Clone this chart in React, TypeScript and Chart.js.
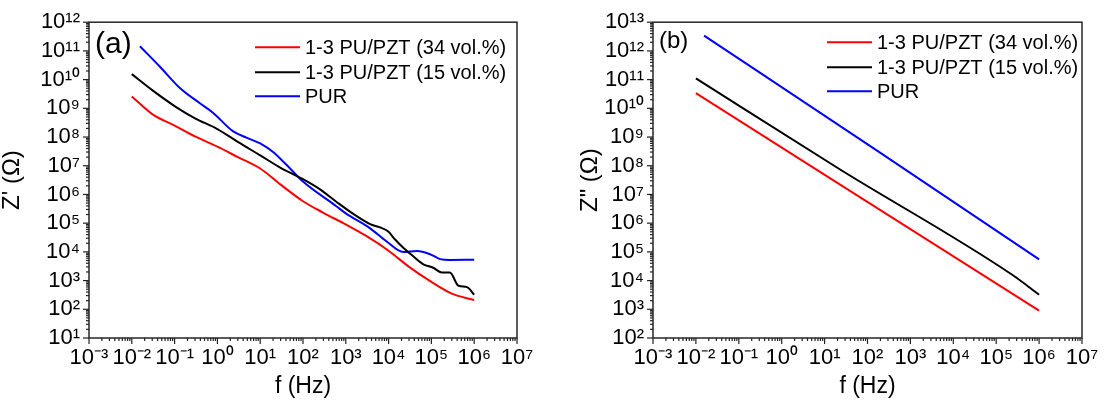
import React, { useEffect, useRef } from 'react';
import { Chart, registerables } from 'chart.js';

Chart.register(...registerables);

const FONT = "'Liberation Sans', Arial, Helvetica, sans-serif";

// Series names & colours
const seriesLabels = ['1-3 PU/PZT (34 vol.%)', '1-3 PU/PZT (15 vol.%)', 'PUR'];
const seriesColors = ['#ff0000', '#000000', '#0000ff'];

// ---- Panel (a): Z' vs f ----
const fA34 = [0.01, 0.03, 0.1, 0.3, 1, 3, 10, 30, 100, 300, 1000, 3000, 1e4, 3e4, 1e5, 3e5, 1e6];
const zA34 = [2.6e9, 6.3e8, 2.5e8, 1.05e8, 4.6e7, 2.0e7, 8.0e6, 2.2e6, 5.8e5, 2.3e5, 9.0e4, 3.6e4, 1.1e4, 3.0e3, 9.0e2, 3.5e2, 2.1e2];

const fA15 = [0.01, 0.03, 0.1, 0.3, 1, 3, 10, 30, 100, 250, 600, 1500, 3700, 6300, 9800, 1.4e4, 2.2e4, 3.7e4, 6.5e4, 1.1e5, 1.75e5, 2.7e5, 4.3e5, 6.8e5, 1e6];
const zA15 = [1.55e10, 4.3e9, 1.2e9, 4.5e8, 1.9e8, 6.8e7, 2.3e7, 8.5e6, 3.4e6, 1.5e6, 5.6e5, 2.1e5, 9.3e4, 7.1e4, 5.1e4, 2.75e4, 1.4e4, 7.2e3, 3.7e3, 2.8e3, 1.9e3, 1.9e3, 6.6e2, 5.9e2, 3.2e2];

const fAPur = [0.0155, 0.046, 0.135, 0.39, 0.8, 2.3, 4.8, 10, 20, 40, 100, 600, 1000, 3700, 9000, 2.2e4, 4.6e4, 9.3e4, 1.6e5, 2.7e5, 1e6];
const zAPur = [1.45e11, 2.75e10, 5.0e9, 1.5e9, 6.9e8, 1.6e8, 9.5e7, 6.0e7, 3.0e7, 1.12e7, 2.8e6, 3.9e5, 2.2e5, 6.6e4, 2.3e4, 9.8e3, 1.07e4, 8.3e3, 5.6e3, 5.25e3, 5.3e3];

// ---- Panel (b): Z'' vs f ----
const fB34 = [0.01, 23, 1e6];
const zB34 = [3.4e10, 2.2e7, 9.0e2];

const fB15 = [0.01, 23, 2.5e5, 1e6];
const zB15 = [1.1e11, 7.4e7, 1.5e4, 3.2e3];

const fBPur = [0.0155, 200, 1e6];
const zBPur = [3.4e12, 2.8e8, 5.5e4];

// ---- Tick values & labels ----
const xTicks = [1e-3, 1e-2, 1e-1, 1e0, 1e1, 1e2, 1e3, 1e4, 1e5, 1e6, 1e7];
const xTickLabels = ['10⁻³', '10⁻²', '10⁻¹', '10⁰', '10¹', '10²', '10³', '10⁴', '10⁵', '10⁶', '10⁷'];

const yTicksA = [1e1, 1e2, 1e3, 1e4, 1e5, 1e6, 1e7, 1e8, 1e9, 1e10, 1e11, 1e12];
const yTickLabelsA = ['10¹', '10²', '10³', '10⁴', '10⁵', '10⁶', '10⁷', '10⁸', '10⁹', '10¹⁰', '10¹¹', '10¹²'];

const yTicksB = [1e2, 1e3, 1e4, 1e5, 1e6, 1e7, 1e8, 1e9, 1e10, 1e11, 1e12, 1e13];
const yTickLabelsB = ['10²', '10³', '10⁴', '10⁵', '10⁶', '10⁷', '10⁸', '10⁹', '10¹⁰', '10¹¹', '10¹²', '10¹³'];

const toPoints = (xs: number[], ys: number[]) => xs.map((x, i) => ({ x, y: ys[i] }));

const decorPlugin = {
  id: 'decor',
  afterDraw(chart: any, _args: any, opts: any) {
    const { ctx, chartArea: a } = chart;
    ctx.save();
    // minor/major tick marks
    ctx.strokeStyle = '#222';
    ctx.lineWidth = 1.2;
    const drawTicks = (scale: any, horizontal: boolean) => {
      const lo = Math.round(Math.log10(scale.min));
      const hi = Math.round(Math.log10(scale.max));
      for (let e = lo; e <= hi; e++) {
        for (let k = 1; k <= 9; k++) {
          if (e === hi && k > 1) break;
          const p = scale.getPixelForValue(k * Math.pow(10, e));
          const len = k === 1 ? 6 : 3;
          ctx.beginPath();
          if (horizontal) {
            ctx.moveTo(p, a.bottom);
            ctx.lineTo(p, a.bottom + len);
          } else {
            ctx.moveTo(a.left, p);
            ctx.lineTo(a.left - len, p);
          }
          ctx.stroke();
        }
      }
    };
    drawTicks(chart.scales.x, true);
    drawTicks(chart.scales.y, false);
    // frame
    ctx.lineWidth = 1.5;
    ctx.strokeStyle = '#262626';
    ctx.strokeRect(a.left, a.top, a.right - a.left, a.bottom - a.top);
    // legend
    ctx.font = `${opts.legendSize}px ${FONT}`;
    ctx.textBaseline = 'middle';
    ctx.textAlign = 'left';
    chart.data.datasets.forEach((ds: any, i: number) => {
      const y = a.top + opts.legendY[i];
      const x = a.left + opts.legendX;
      ctx.strokeStyle = ds.borderColor;
      ctx.lineWidth = 2;
      ctx.beginPath();
      ctx.moveTo(x, y);
      ctx.lineTo(x + 45, y);
      ctx.stroke();
      ctx.fillStyle = '#000';
      ctx.fillText(ds.label, x + 50, y + 1);
    });
    // panel label
    ctx.font = `${opts.panelSize}px ${FONT}`;
    ctx.fillStyle = '#000';
    ctx.fillText(opts.panel, a.left + opts.panelX, a.top + opts.panelY);
    ctx.restore();
  },
};

function makeConfig(p: any) {
  const datasets = p.series.map((s: any, i: number) => ({
    label: seriesLabels[i],
    data: toPoints(s[0], s[1]),
    borderColor: seriesColors[i],
    backgroundColor: seriesColors[i],
    borderWidth: 2,
    pointRadius: 0,
    cubicInterpolationMode: 'monotone',
    fill: false,
  }));
  return {
    type: 'line',
    data: { datasets },
    plugins: [decorPlugin],
    options: {
      animation: false,
      responsive: false,
      maintainAspectRatio: false,
      layout: { padding: { top: 18, left: 0, right: p.padRight, bottom: 0 } },
      plugins: {
        legend: { display: false },
        tooltip: { enabled: false },
        decor: p.decor,
      },
      scales: {
        x: {
          type: 'logarithmic',
          position: 'bottom',
          min: 1e-3,
          max: 1e7,
          grid: { display: false, drawTicks: false, tickLength: 0 },
          border: { display: false },
          afterBuildTicks: (scale: any) => {
            scale.ticks = xTicks.map((value) => ({ value }));
          },
          afterFit: (scale: any) => {
            scale.height = 66;
          },
          ticks: {
            autoSkip: false,
            maxRotation: 0,
            minRotation: 0,
            padding: 7,
            color: '#000',
            font: { family: FONT, size: 22 },
            callback: (_v: any, i: number) => xTickLabels[i],
          },
          title: {
            display: true,
            text: 'f (Hz)',
            color: '#000',
            font: { family: FONT, size: 23, lineHeight: 1.2 },
            padding: { top: 0, bottom: 4 },
          },
        },
        y: {
          type: 'logarithmic',
          position: 'left',
          min: p.yTicks[0],
          max: p.yTicks[p.yTicks.length - 1],
          grid: { display: false, drawTicks: false, tickLength: 0 },
          border: { display: false },
          afterBuildTicks: (scale: any) => {
            scale.ticks = p.yTicks.map((value: number) => ({ value }));
          },
          afterFit: (scale: any) => {
            scale.width = p.yWidth;
          },
          ticks: {
            autoSkip: false,
            padding: 9,
            color: '#000',
            font: { family: FONT, size: 22 },
            callback: (_v: any, i: number) => p.yTickLabels[i],
          },
          title: {
            display: true,
            text: p.yTitle,
            color: '#000',
            font: { family: FONT, size: 24, lineHeight: 1 },
            padding: { top: p.yTitlePad, bottom: 0 },
          },
        },
      },
    },
  };
}

const configA = () =>
  makeConfig({
    series: [
      [fA34, zA34],
      [fA15, zA15],
      [fAPur, zAPur],
    ],
    yTicks: yTicksA,
    yTickLabels: yTickLabelsA,
    yTitle: "Z' (Ω)",
    yTitlePad: 0,
    yWidth: 89,
    padRight: 36,
    decor: {
      legendX: 166,
      legendY: [25, 50, 74],
      legendSize: 20,
      panel: '(a)',
      panelSize: 30,
      panelX: 6,
      panelY: 23,
    },
  });

const configB = () =>
  makeConfig({
    series: [
      [fB34, zB34],
      [fB15, zB15],
      [fBPur, zBPur],
    ],
    yTicks: yTicksB,
    yTickLabels: yTickLabelsB,
    yTitle: 'Z" (Ω)',
    yTitlePad: 25,
    yWidth: 100,
    padRight: 24,
    decor: {
      legendX: 174,
      legendY: [20, 45, 69],
      legendSize: 20,
      panel: '(b)',
      panelSize: 24,
      panelX: 6,
      panelY: 19,
    },
  });

function Panel({ build, left }: { build: () => any; left: number }) {
  const ref = useRef<HTMLCanvasElement>(null);
  useEffect(() => {
    const chart = new Chart(ref.current as HTMLCanvasElement, build());
    return () => chart.destroy();
  }, []);
  return (
    <div style={{ position: 'absolute', left, top: 0, width: 553, height: 404 }}>
      <canvas ref={ref} width={553} height={404} style={{ display: 'block' }} />
    </div>
  );
}

export default function App() {
  return (
    <div style={{ position: 'absolute', left: 0, top: 0, width: 1106, height: 404, background: '#fff' }}>
      <Panel build={configA} left={0} />
      <Panel build={configB} left={553} />
    </div>
  );
}
